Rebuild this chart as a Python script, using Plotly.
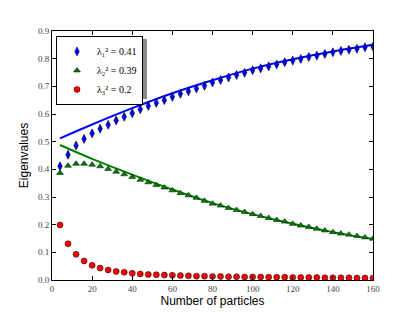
import plotly.graph_objects as go

# ---- data ----
n_particles = list(range(4, 161, 4))

lam1_points = [0.411, 0.453, 0.486, 0.510, 0.530, 0.547, 0.561, 0.577, 0.590, 0.603,
               0.617, 0.629, 0.640, 0.650, 0.662, 0.673, 0.682, 0.692, 0.702, 0.714,
               0.723, 0.732, 0.741, 0.749, 0.758, 0.765, 0.772, 0.779, 0.787, 0.793,
               0.799, 0.806, 0.811, 0.817, 0.823, 0.828, 0.832, 0.836, 0.841, 0.844]

lam2_points = [0.387, 0.413, 0.420, 0.420, 0.417, 0.411, 0.401, 0.391, 0.382, 0.372,
               0.362, 0.353, 0.343, 0.334, 0.324, 0.314, 0.306, 0.297, 0.286, 0.276,
               0.269, 0.260, 0.253, 0.246, 0.238, 0.231, 0.224, 0.217, 0.211, 0.203,
               0.197, 0.192, 0.185, 0.179, 0.173, 0.168, 0.164, 0.159, 0.154, 0.149]

lam3_points = [0.199, 0.131, 0.093, 0.069, 0.053, 0.043, 0.036, 0.031, 0.028, 0.024,
               0.022, 0.020, 0.019, 0.018, 0.017, 0.016, 0.015, 0.014, 0.014, 0.013,
               0.013, 0.012, 0.012, 0.011, 0.011, 0.011, 0.010, 0.010, 0.010, 0.009,
               0.009, 0.009, 0.009, 0.008, 0.008, 0.008, 0.008, 0.007, 0.007, 0.007]

curve_x = [4, 20, 40, 60, 80, 100, 120, 140, 160]
lam1_curve = [0.512, 0.562, 0.621, 0.675, 0.722, 0.764, 0.798, 0.826, 0.850]
lam2_curve = [0.488, 0.438, 0.381, 0.327, 0.278, 0.238, 0.203, 0.173, 0.148]

legend_labels = ["λ₁² = 0.41", "λ₂² = 0.39", "λ₃² = 0.2"]
x_ticks = [0, 20, 40, 60, 80, 100, 120, 140, 160]
y_ticks = [0.0, 0.1, 0.2, 0.3, 0.4, 0.5, 0.6, 0.7, 0.8, 0.9]

fig = go.Figure()

fig.add_trace(go.Scatter(x=curve_x, y=lam1_curve, mode="lines", line=dict(color="#0000ff", width=2, shape="spline"),
                         showlegend=False, hoverinfo="skip"))
fig.add_trace(go.Scatter(x=curve_x, y=lam2_curve, mode="lines", line=dict(color="#008000", width=2, shape="spline"),
                         showlegend=False, hoverinfo="skip"))

fig.add_trace(go.Scatter(x=n_particles, y=lam1_points, mode="markers", name=legend_labels[0],
                         marker=dict(symbol="diamond-tall", size=6.5, color="#0000ff",
                                     line=dict(color="black", width=0.5))))
fig.add_trace(go.Scatter(x=n_particles, y=lam2_points, mode="markers", name=legend_labels[1],
                         marker=dict(symbol="triangle-up", size=6, color="#008000",
                                     line=dict(color="black", width=0.5))))
fig.add_trace(go.Scatter(x=n_particles, y=lam3_points, mode="markers", name=legend_labels[2],
                         marker=dict(symbol="circle", size=6, color="#ff0000",
                                     line=dict(color="black", width=0.5))))

tickfont = dict(family="Liberation Serif, DejaVu Serif, serif", size=9, color="#444")

fig.update_xaxes(range=[0, 160], tickvals=x_ticks, ticks="inside", ticklen=4, tickcolor="black",
                 showline=True, linecolor="black", linewidth=1, mirror="allticks", showgrid=False,
                 zeroline=False, tickfont=tickfont, automargin=False,
                 title=dict(text="Number of particles", standoff=1,
                            font=dict(family="Liberation Sans, Arial, sans-serif", size=12, color="black")))
fig.update_yaxes(range=[0, 0.9], tickvals=y_ticks, tickformat=".1f", ticks="inside", ticklen=4,
                 tickcolor="black", showline=True, linecolor="black", linewidth=1, mirror="allticks",
                 showgrid=False, zeroline=False, tickfont=tickfont, automargin=False,
                 title=dict(text="Eigenvalues", standoff=6,
                            font=dict(family="Liberation Sans, Arial, sans-serif", size=12, color="black")))

# legend shadow
fig.add_shape(type="rect", xref="paper", yref="paper", x0=0.0218, x1=0.296, y0=0.727, y1=0.968,
              fillcolor="#888", line=dict(width=0), layer="above")

# page body has an 8px default margin: figure is offset by 8px to the right and down
fig.update_layout(
    width=407, height=304,
    margin=dict(l=44, r=42, t=23, b=32),
    paper_bgcolor="white", plot_bgcolor="white",
    legend=dict(x=0.0125, y=0.98, xanchor="left", yanchor="top", bgcolor="white",
                bordercolor="black", borderwidth=1, tracegroupgap=0, itemwidth=30,
                font=dict(family="Liberation Serif, DejaVu Serif, serif", size=10, color="black")),
)

fig.write_html("out.html")
